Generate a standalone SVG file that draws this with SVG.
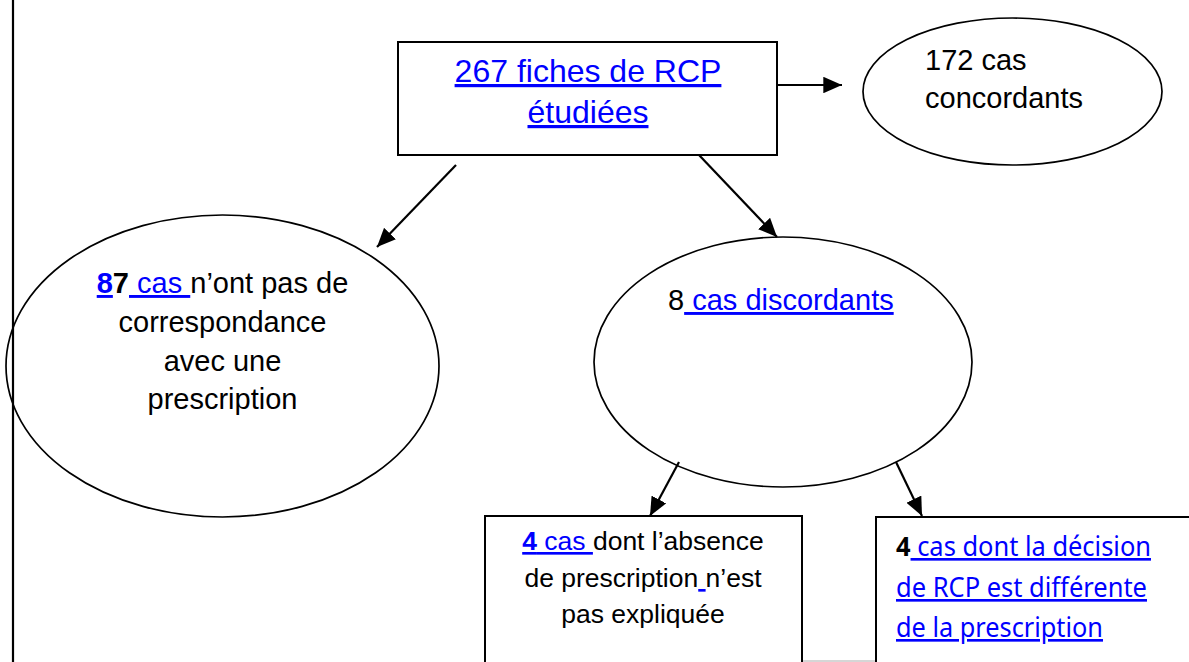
<svg xmlns="http://www.w3.org/2000/svg" width="1189" height="662" viewBox="0 0 1189 662">
<style>
.shape{fill:#fff;stroke:#000;stroke-width:2}
.ell{fill:none;stroke:#000;stroke-width:1.7}
.conn{stroke:#000;stroke-width:2.2;fill:none}
.t{font-family:"Liberation Sans",Arial,sans-serif;fill:#000}
.c{font-family:"Noto Sans","Open Sans",sans-serif;fill:#000}
.lk{fill:#0000ff;text-decoration:underline}
.b{font-weight:bold}
</style>
<defs>
<marker id="ah" viewBox="0 0 10 10" refX="10" refY="5" markerWidth="8.5" markerHeight="7.5" markerUnits="strokeWidth" orient="auto" preserveAspectRatio="none">
<path d="M0,0 L10,5 L0,10 z" fill="#000"/>
</marker>
</defs>
<rect width="1189" height="662" fill="#fff"/>
<line x1="13" y1="0" x2="13" y2="662" stroke="#000" stroke-width="2.2"/>
<line x1="485" y1="661" x2="1189" y2="661" stroke="#c8c8c8" stroke-width="1.5"/>

<g id="node-fiches">
<rect class="shape" x="398" y="42" width="379" height="113"/>
<text class="t lk" x="588" y="82" font-size="32" text-anchor="middle">267 fiches de RCP</text>
<text class="t lk" x="588" y="123" font-size="32" text-anchor="middle">étudiées</text>
</g>

<g id="node-concordants">
<ellipse class="ell" cx="1012.5" cy="91.5" rx="149.5" ry="73.5"/>
<text class="t" x="925" y="70" font-size="29">172 cas</text>
<text class="t" x="925" y="108" font-size="29">concordants</text>
</g>

<g id="node-sans-correspondance">
<ellipse class="ell" cx="222.5" cy="366" rx="216.5" ry="151"/>
<text class="t" x="222.5" y="293" font-size="29" text-anchor="middle"><tspan class="lk b">8</tspan><tspan class="b">7</tspan><tspan class="lk"> cas </tspan>n’ont pas de</text>
<text class="t" x="222.5" y="332" font-size="29" text-anchor="middle">correspondance</text>
<text class="t" x="222.5" y="371" font-size="29" text-anchor="middle">avec une</text>
<text class="t" x="222.5" y="409" font-size="29" text-anchor="middle">prescription</text>
</g>

<g id="node-discordants">
<ellipse class="ell" cx="783" cy="362" rx="189" ry="125"/>
<text class="t" x="668" y="310" font-size="29">8<tspan class="lk"> cas discordants</tspan></text>
</g>

<g id="node-absence">
<rect class="shape" x="485" y="516" width="317" height="160"/>
<text class="t" x="643" y="550" font-size="26.5" text-anchor="middle"><tspan class="lk"><tspan class="b">4</tspan> cas </tspan>dont l’absence</text>
<text class="t" x="643" y="587" font-size="26.5" text-anchor="middle">de prescription<tspan class="lk"> </tspan>n’est</text>
<text class="t" x="643" y="623" font-size="26.5" text-anchor="middle">pas expliquée</text>
</g>

<g id="node-decision">
<rect class="shape" x="876" y="517" width="330" height="160"/>
<text class="c" x="896" y="556" font-size="26.5" textLength="255" lengthAdjust="spacingAndGlyphs"><tspan class="b">4</tspan><tspan class="lk"> cas dont la décision</tspan></text>
<text class="c lk" x="896" y="597" font-size="26.5" textLength="251" lengthAdjust="spacingAndGlyphs">de RCP est différente</text>
<text class="c lk" x="896" y="637" font-size="26.5" textLength="207" lengthAdjust="spacingAndGlyphs">de la prescription</text>
</g>

<g id="connectors">
<line class="conn" x1="777" y1="85" x2="842" y2="85" marker-end="url(#ah)"/>
<line class="conn" x1="456" y1="165" x2="377" y2="247" marker-end="url(#ah)"/>
<line class="conn" x1="699" y1="155" x2="777" y2="237" marker-end="url(#ah)"/>
<line class="conn" x1="679" y1="462" x2="650" y2="516" marker-end="url(#ah)"/>
<line class="conn" x1="896" y1="462" x2="922" y2="516" marker-end="url(#ah)"/>
</g>
</svg>
